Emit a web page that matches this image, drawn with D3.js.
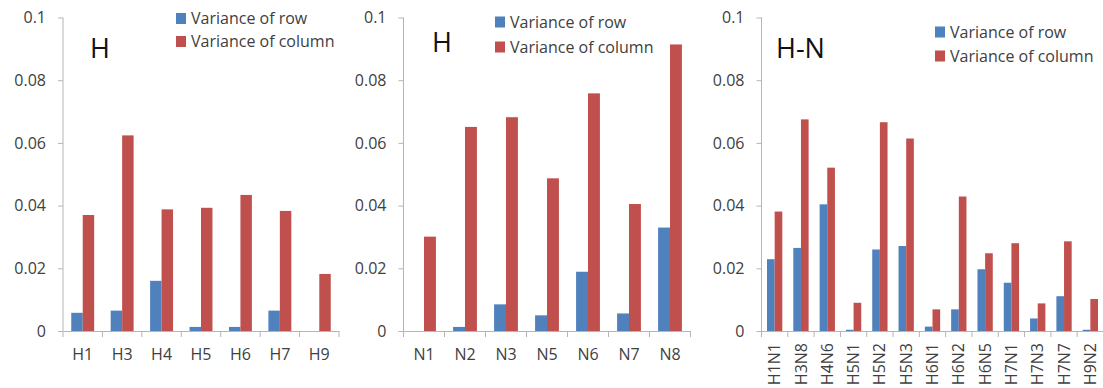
<!DOCTYPE html>
<html>
<head>
<meta charset="utf-8">
<script src="https://cdn.jsdelivr.net/npm/d3@7"></script>
<style>
  body { margin: 0; background: #fff; }
  text { font-family: "Open Sans", sans-serif; }
</style>
</head>
<body>
<div id="chart"></div>
<script>
// data
const seriesNames = ["Variance of row", "Variance of column"];
const colors = ["#4F81BD", "#C0504D"];
const yTicks = [0, 0.02, 0.04, 0.06, 0.08, 0.1];

const hCats = ["H1", "H3", "H4", "H5", "H6", "H7", "H9"];
const hRow = [0.0058, 0.0065, 0.016, 0.0013, 0.0013, 0.0065, 0];
const hCol = [0.037, 0.0624, 0.0388, 0.0393, 0.0434, 0.0383, 0.0182];

const nCats = ["N1", "N2", "N3", "N5", "N6", "N7", "N8"];
const nRow = [0, 0.0013, 0.0085, 0.005, 0.0189, 0.0056, 0.033];
const nCol = [0.0301, 0.0651, 0.0682, 0.0487, 0.0758, 0.0405, 0.0914];

const hnCats = ["H1N1", "H3N8", "H4N6", "H5N1", "H5N2", "H5N3", "H6N1", "H6N2", "H6N5", "H7N1", "H7N3", "H7N7", "H9N2"];
const hnRow = [0.0229, 0.0265, 0.0404, 0.0004, 0.026, 0.0271, 0.0014, 0.0069, 0.0197, 0.0154, 0.004, 0.0111, 0.0004];
const hnCol = [0.0381, 0.0675, 0.0521, 0.009, 0.0666, 0.0614, 0.0069, 0.0429, 0.0248, 0.028, 0.0088, 0.0286, 0.0102];

const W = 1103, H = 388;
const svg = d3.select("#chart").append("svg")
  .attr("width", W)
  .attr("height", H);

const axisColor = "#b5b5b5";
const textColor = "#404040";

function drawPanel(p) {
  const g = svg.append("g");
  const y = d3.scaleLinear().domain([0, 0.1]).range([331, 17.5]);
  const x = d3.scaleBand().domain(p.cats).range([p.x0, p.x1]).padding(0);
  const x1 = d3.scaleBand().domain([0, 1]).range([0, x.bandwidth()]).paddingOuter(0.72).paddingInner(0);

  // y axis
  const ya = g.append("g")
    .attr("transform", `translate(${p.x0},0)`)
    .call(d3.axisLeft(y).tickValues(yTicks).tickSize(5).tickPadding(12)
      .tickFormat(d => d === 0 ? "0" : d3.format(".2~f")(d)));
  ya.select(".domain").attr("stroke", axisColor).attr("d", `M0,${y(0.1)}V${y(0)}`);
  ya.selectAll(".tick line").attr("stroke", axisColor);
  ya.selectAll(".tick text").attr("fill", textColor).style("font-size", "16px");

  // bars
  const rows = p.cats.map((c, i) => ({c, v: [p.row[i], p.col[i]]}));
  g.selectAll(".grp")
    .data(rows)
    .join("g")
      .attr("transform", d => `translate(${x(d.c)},0)`)
    .selectAll("rect")
    .data(d => d.v.map((v, k) => ({v, k})))
    .join("rect")
      .attr("x", d => x1(d.k))
      .attr("width", x1.bandwidth())
      .attr("y", d => y(d.v))
      .attr("height", d => y(0) - y(d.v))
      .attr("fill", d => colors[d.k]);

  // x axis
  const xa = g.append("g")
    .attr("transform", `translate(0,${y(0)})`)
    .call(d3.axisBottom(x).tickSize(0).tickSizeOuter(0).tickPadding(p.rotate ? 12 : 18));
  xa.select(".domain").attr("stroke", axisColor);
  xa.selectAll(".tick text").attr("fill", textColor).style("font-size", "16px");
  if (p.rotate) {
    xa.selectAll(".tick text")
      .attr("transform", "rotate(-90)")
      .attr("x", -12)
      .attr("y", 0)
      .attr("dy", "0.35em")
      .style("text-anchor", "end");
  }
  const bounds = p.cats.map(c => x(c)).concat([x.range()[1]]);
  g.selectAll(".btick")
    .data(bounds)
    .join("line")
      .attr("x1", d => d).attr("x2", d => d)
      .attr("y1", y(0)).attr("y2", y(0) + 6)
      .attr("stroke", axisColor);

  // title
  g.append("text")
    .attr("x", p.titleX).attr("y", p.titleY)
    .attr("fill", "#111")
    .style("font-size", "27px")
    .text(p.title);

  // legend
  seriesNames.forEach((s, k) => {
    const ly = p.legY + k * p.legGap;
    g.append("rect")
      .attr("x", p.legX).attr("y", ly - 5.5)
      .attr("width", 10).attr("height", 11)
      .attr("fill", colors[k]);
    g.append("text")
      .attr("x", p.legX + 15).attr("y", ly)
      .attr("dy", "0.35em")
      .attr("fill", textColor)
      .style("font-size", "16px")
      .text(s);
  });
}

drawPanel({cats: hCats, row: hRow, col: hCol, x0: 63, x1: 339, title: "H", titleX: 90, titleY: 58, legX: 176, legY: 18.5, legGap: 23});
drawPanel({cats: nCats, row: nRow, col: nCol, x0: 403.5, x1: 690.5, title: "H", titleX: 432, titleY: 52, legX: 495, legY: 22, legGap: 25});
drawPanel({cats: hnCats, row: hnRow, col: hnCol, x0: 761.5, x1: 1103.5, title: "H-N", titleX: 776, titleY: 58, legX: 935, legY: 32, legGap: 24, rotate: true});
</script>
</body>
</html>
